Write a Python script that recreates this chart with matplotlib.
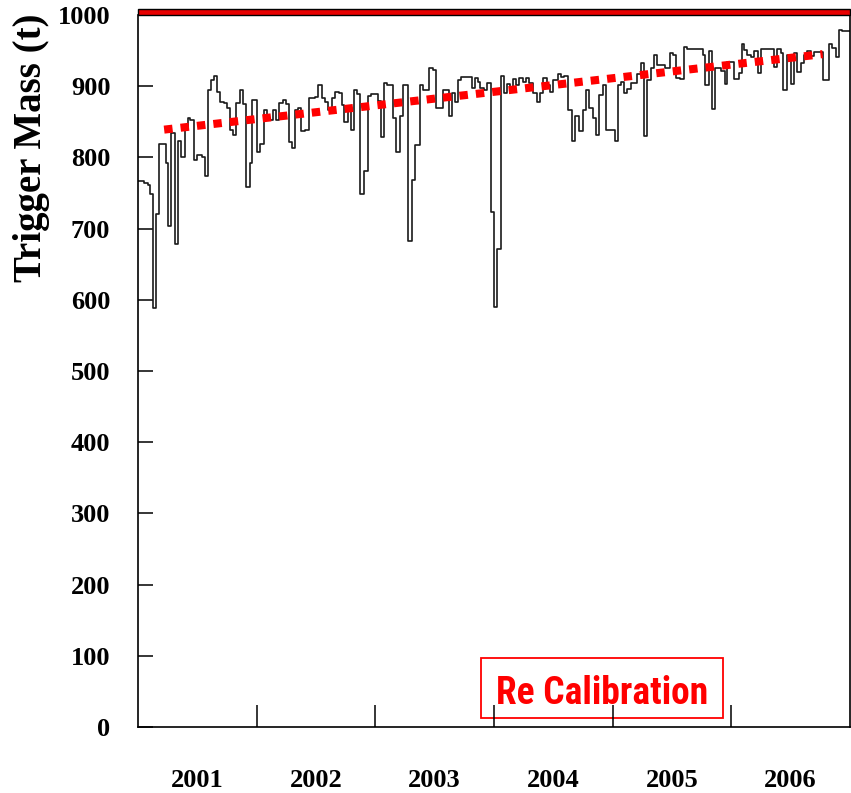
import matplotlib.pyplot as plt
from matplotlib.patches import Rectangle

# step start (decimal year) and trigger mass (t)
t_start = [
    2001.000, 2001.049, 2001.086, 2001.105, 2001.122, 2001.150, 2001.175, 2001.234, 2001.254, 2001.282,
    2001.310, 2001.338, 2001.366, 2001.394, 2001.417, 2001.442, 2001.470, 2001.498, 2001.537, 2001.562,
    2001.591, 2001.619, 2001.641, 2001.667, 2001.689, 2001.722, 2001.751, 2001.773, 2001.801, 2001.829,
    2001.857, 2001.886, 2001.913, 2001.941, 2001.961,
    2002.003, 2002.031, 2002.059, 2002.088, 2002.107, 2002.135, 2002.163, 2002.191, 2002.219, 2002.247,
    2002.269, 2002.298, 2002.326, 2002.351, 2002.376, 2002.407, 2002.444, 2002.492, 2002.519, 2002.551,
    2002.576, 2002.604, 2002.631, 2002.660, 2002.696, 2002.715, 2002.738, 2002.766, 2002.795, 2002.816,
    2002.845, 2002.873, 2002.907, 2002.934, 2002.963,
    2003.024, 2003.044, 2003.072, 2003.100, 2003.151, 2003.176, 2003.204, 2003.232, 2003.277, 2003.311,
    2003.338, 2003.375, 2003.401, 2003.456, 2003.485, 2003.513, 2003.569, 2003.620, 2003.647, 2003.675,
    2003.698, 2003.726, 2003.816, 2003.843, 2003.866, 2003.886, 2003.914, 2003.942, 2003.976,
    2004.001, 2004.029, 2004.057, 2004.085, 2004.108, 2004.136, 2004.158, 2004.186, 2004.214, 2004.242,
    2004.270, 2004.298, 2004.327, 2004.360, 2004.388, 2004.416, 2004.444, 2004.472, 2004.495, 2004.542,
    2004.562, 2004.590, 2004.626, 2004.655, 2004.683, 2004.719, 2004.747, 2004.775, 2004.803, 2004.832,
    2004.859, 2004.887, 2004.916, 2004.944,
    2005.022, 2005.045, 2005.072, 2005.095, 2005.123, 2005.152, 2005.207, 2005.236, 2005.264, 2005.291,
    2005.320, 2005.348, 2005.375, 2005.443, 2005.480, 2005.508, 2005.535, 2005.564, 2005.600, 2005.628,
    2005.760, 2005.779, 2005.808, 2005.836, 2005.864, 2005.914, 2005.943, 2005.965,
    2006.024, 2006.066, 2006.088, 2006.108, 2006.136, 2006.164, 2006.192, 2006.221, 2006.248, 2006.360,
    2006.389, 2006.417, 2006.436, 2006.473, 2006.501, 2006.529, 2006.557, 2006.585, 2006.613, 2006.641,
    2006.669, 2006.698, 2006.773, 2006.823, 2006.852, 2006.880, 2006.907, 2006.936,
]
mass = [
    767, 764, 761, 749, 588, 721, 819, 792, 703, 834,
    679, 823, 801, 843, 856, 852, 796, 803, 800, 774,
    895, 908, 915, 892, 878, 876, 870, 838, 831, 877,
    895, 875, 759, 792, 881,
    808, 819, 866, 855, 852, 866, 852, 877, 881, 875,
    821, 813, 867, 870, 837, 839, 883, 885, 902, 883,
    878, 866, 883, 892, 890, 874, 850, 872, 838, 895,
    889, 748, 781, 886, 889,
    879, 829, 904, 901, 856, 807, 858, 902, 682, 768,
    818, 901, 894, 925, 923, 870, 894, 858, 890, 878,
    909, 913, 898, 912, 906, 898, 894, 904, 724,
    590, 672, 915, 891, 903, 898, 910, 902, 912, 906,
    912, 905, 891, 878, 891, 912, 902, 892, 908, 917,
    913, 915, 866, 823, 858, 837, 867, 895, 870, 856,
    831, 887, 902, 839,
    823, 902, 906, 890, 896, 905, 917, 932, 830, 908,
    925, 944, 930, 926, 947, 944, 912, 910, 955, 952,
    944, 902, 950, 868, 925, 922, 903, 934,
    910, 918, 959, 951, 944, 941, 950, 919, 952, 927,
    952, 947, 895, 944, 903, 947, 920, 933, 944, 950,
    942, 948, 908, 959, 953, 941, 979, 977,
]
t_end = 2007.0

trend_t = [2001.22, 2006.77]
trend_mass = [839, 945]

years = [2001, 2002, 2003, 2004, 2005, 2006]
year_bounds = [2001, 2002, 2003, 2004, 2005, 2006, 2007]
yticks = list(range(0, 1001, 100))
max_mass = 1000

fig = plt.figure(figsize=(8.51, 7.93), dpi=100)
ax = fig.add_axes([0.1622, 0.0832, 0.8366, 0.8979])

ax.step(t_start + [t_end], mass + [mass[-1]], where='post', color='#1a1a1a', lw=1.2)
ax.plot(trend_t, trend_mass, color='#ff0000', lw=5.8, linestyle=(0, (1.05, 1.0)),
        dash_capstyle='butt')

# red band along the top
ax.add_patch(Rectangle((year_bounds[0], max_mass), year_bounds[-1] - year_bounds[0], 8.5,
                       facecolor='#e80000', edgecolor='black', lw=1.0, clip_on=False, zorder=5))

ax.set_xlim(year_bounds[0], year_bounds[-1])
ax.set_ylim(0, max_mass)
ax.spines['top'].set_visible(False)
for s in ['left', 'right', 'bottom']:
    ax.spines[s].set_linewidth(1.2)

font = dict(family='Liberation Serif', weight='bold')
ax.set_yticks(yticks)
ax.set_yticklabels([str(v) for v in yticks], fontsize=19, **font)
ax.tick_params(axis='y', direction='in', length=11, width=1.1, pad=20)

ax.set_xticks(year_bounds[1:-1])
ax.set_xticklabels([])
ax.set_xticks([y + 0.5 for y in years], minor=True)
ax.set_xticklabels([str(y) for y in years], minor=True, fontsize=19, **font)
ax.tick_params(axis='x', which='major', direction='in', length=16, width=1.1)
ax.tick_params(axis='x', which='minor', length=0, pad=30)

ax.set_ylabel('Trigger Mass (t)', fontsize=28, **font)
ax.yaxis.label.set_va('center')
ax.yaxis.set_label_coords(-0.150, 0.813)

# "Re Calibration" box
ax.add_patch(Rectangle((0.482, 0.0126), 0.340, 0.084, transform=ax.transAxes,
                       fill=False, edgecolor='#ff0000', lw=1.3))
ax.text(0.652, 0.047, 'Re Calibration', transform=ax.transAxes, ha='center', va='center',
        color='#ff0000', fontsize=27, fontweight='heavy', fontstretch='condensed',
        family=['Roboto Condensed', 'Liberation Sans Narrow', 'Roboto', 'DejaVu Sans'])

fig.savefig('out.png', dpi=100)
